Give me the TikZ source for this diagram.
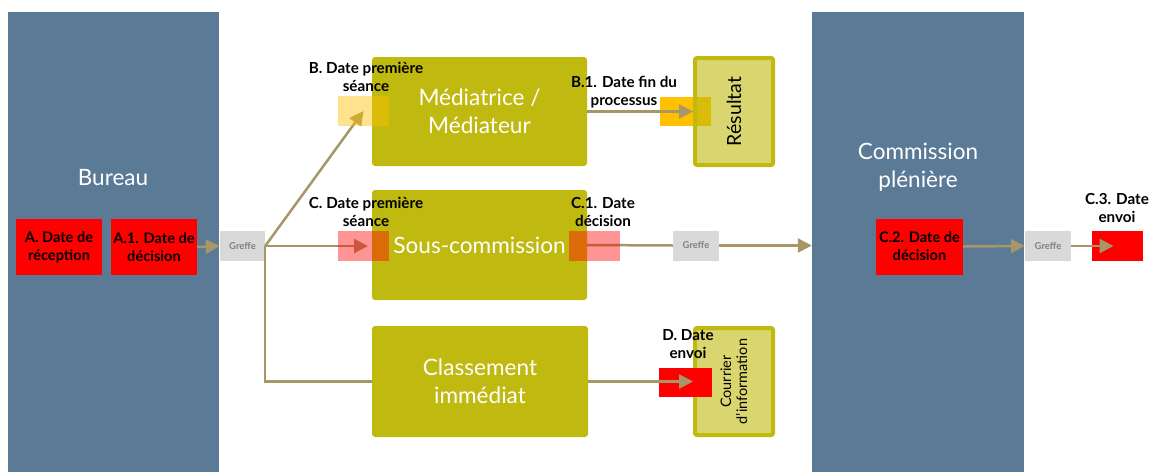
\documentclass[tikz,border=0pt]{standalone}
\usepackage{fontspec}
\setmainfont{Lato}
\usetikzlibrary{arrows.meta,calc}
\definecolor{slate}{HTML}{5A7A96}
\definecolor{olive}{HTML}{C0B90F}
\definecolor{tanline}{HTML}{A69668}
\definecolor{greffegray}{HTML}{D9D9D9}
\definecolor{greffetext}{HTML}{808080}
\definecolor{amber}{HTML}{FFC000}
\pgfdeclarelayer{base}
\pgfdeclarelayer{under}
\pgfdeclarelayer{over}
\pgfdeclarelayer{labels}
\pgfsetlayers{base,under,main,over,labels}
\begin{document}
\begin{tikzpicture}[x=1pt,y=-1pt,
  panel/.style={fill=slate, minimum width=211pt, minimum height=460pt, inner sep=0pt},
  paneltext/.style={text=white, align=center, font=\fontsize{22.5}{28}\selectfont, inner sep=0pt},
  datebox/.style={fill=red, minimum width=86pt, minimum height=56pt, inner sep=0pt, align=center, font=\bfseries\fontsize{14.6}{18}\selectfont},
  greffe/.style={fill=greffegray, text=greffetext, minimum width=45pt, minimum height=30pt, inner sep=0pt, font=\bfseries\fontsize{9.5}{10}\selectfont},
  stage/.style={fill=olive, rounded corners=3pt, minimum width=215pt, minimum height=110pt, inner sep=0pt, text=white, align=center, font=\fontsize{22.6}{28}\selectfont},
  outcome/.style={draw=olive, line width=4pt, fill=olive, fill opacity=0.6, text opacity=1, rounded corners=2pt, rotate=90, minimum width=107pt, minimum height=78pt, inner sep=0pt, align=center},
  marker/.style={minimum width=51pt, minimum height=30pt, inner sep=0pt},
  lbl/.style={align=center, inner sep=0pt, font=\bfseries\fontsize{15.2}{17.5}\selectfont},
  flow/.style={draw=tanline, line width=2.5pt},
  arrowflow/.style={flow, -{Triangle[length=14pt,width=14pt]}}
]
\useasboundingbox (0,0) rectangle (1151,472);
\begin{pgfonlayer}{base}
  \node[panel] (bureau) at (113.5,242) {};
  \node[panel, minimum width=212pt] (cp) at (918,242) {};
  \node[paneltext] (bureautxt) at (113,178) {Bureau};
  \node[paneltext] (cptxt) at (918,167) {Commission\\plénière};
  \node[datebox] (a) at (59,247) {A. Date de\\réception};
  \node[datebox] (a1) at (154,247) {A.1. Date de\\décision};
  \node[datebox, minimum width=87pt] (c2) at (919.5,246.5) {C.2. Date de\\décision};
  \node[greffe] (g1) at (242.5,246) {Greffe};
  \node[greffe, minimum width=46pt] (g2) at (696,245.5) {Greffe};
  \node[greffe, minimum width=46pt] (g3) at (1048,246) {Greffe};
  \node[stage, minimum height=109pt] (med) at (479.5,111.5) {Médiatrice /\\Médiateur};
  \node[stage] (sous) at (479.5,245) {Sous-commission};
  \node[stage, minimum width=216pt, minimum height=111pt] (class) at (480,381.5) {Classement\\immédiat};
\end{pgfonlayer}
% overlay markers
\node[marker, fill=amber, fill opacity=0.45] (bbox) at (363.5,111) {};
\node[marker, fill=red, fill opacity=0.42] (cbox) at (363,246) {};
\node[marker, fill=red, fill opacity=0.42] (c1box) at (594.5,246) {};
\node[marker, fill=amber, minimum height=29pt] (b1box) at (685.5,111.5) {};
\node[outcome, font=\fontsize{19.5}{22}\selectfont] (res) at (734,111.5) {Résultat};
\node[outcome, font=\fontsize{14.5}{16}\selectfont] (cour) at (734,381.5) {Courrier\\d'information};
\node[marker, fill=red, minimum width=53pt, minimum height=29pt] (dbox) at (685.5,382.5) {};
\node[marker, fill=red] (c3box) at (1117.5,246) {};
% connectors under the markers
\begin{pgfonlayer}{under}
  \draw[arrowflow] (g1.east) -- (bbox.center);
  \draw[arrowflow] (g1.east) -- ($(cbox.center)+(5,0)$);
  \draw[flow] (g1.east) |- (class.west);
  \draw[flow] (sous.east) -- (g2.west);
\end{pgfonlayer}
% connectors over everything
\begin{pgfonlayer}{over}
  \draw[arrowflow] (a1.east) -- (g1.west);
  \draw[arrowflow] (g2.east) -- (cp.west |- g2.east);
  \draw[arrowflow] (c2.east) -- (g3.west);
  \draw[arrowflow] (g3.east) -- ($(c3box.center)+(-4,0)$);
  \draw[arrowflow] (med.east) -- (res.north |- med.east);
  \draw[arrowflow] (class.east) -- (cour.north |- class.east);
\end{pgfonlayer}
\begin{pgfonlayer}{labels}
  \node[lbl] (blbl) at (366,77) {B. Date première\\séance};
  \node[lbl] (clbl) at (366,212) {C. Date première\\séance};
  \node[lbl] (b1lbl) at (624,92) {B.1. Date fin du\\processus};
  \node[lbl] (c1lbl) at (603,212) {C.1. Date\\décision};
  \node[lbl] (c3lbl) at (1117,208) {C.3. Date\\envoi};
  \node[lbl] (dlbl) at (688,344) {D. Date\\envoi};
\end{pgfonlayer}
\end{tikzpicture}
\end{document}
